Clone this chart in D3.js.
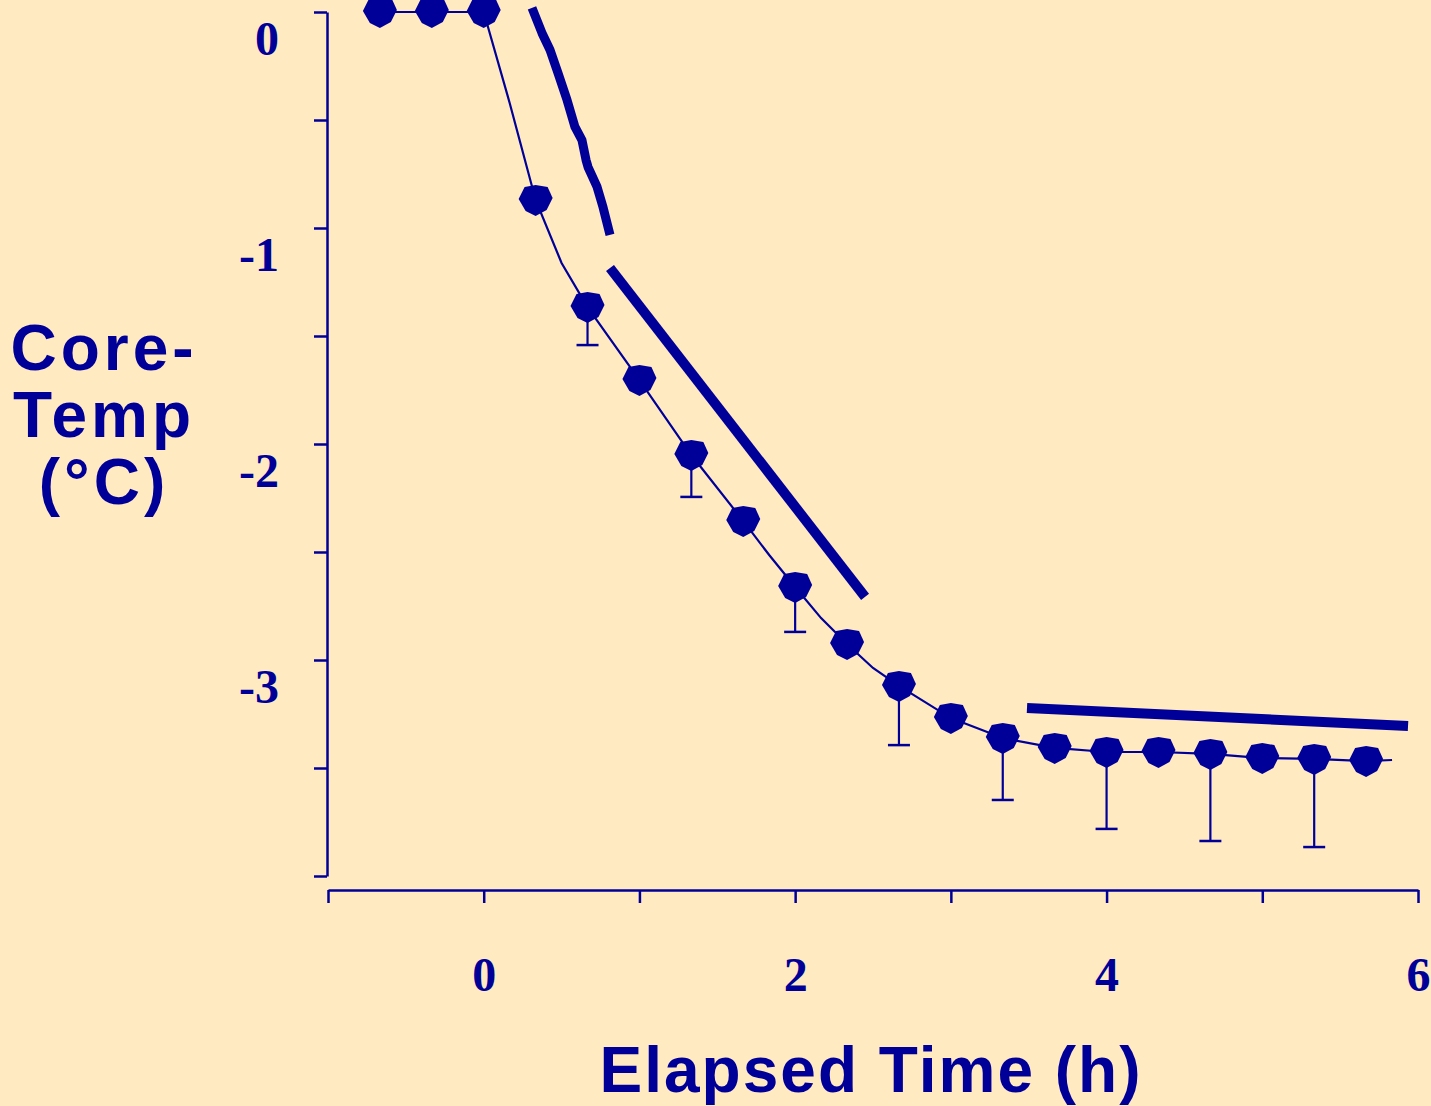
<!DOCTYPE html>
<html>
<head>
<meta charset="utf-8">
<script src="https://cdn.jsdelivr.net/npm/d3@7"></script>
<style>
  body { margin: 0; background: #FFEAC2; }
  svg { display: block; }
</style>
</head>
<body>
<script>
// Width and height of svg
var w = 1431;
var h = 1106;

var navy = "#000099";

// Mean core temperature change, one marker every 20 min (h, °C)
var markerTimes = [-2/3, -1/3, 0, 1/3, 2/3, 1, 4/3, 5/3, 2, 7/3, 8/3, 3, 10/3, 11/3, 4, 13/3, 14/3, 5, 16/3, 17/3];
var markerTemps = [0, 0, 0, -0.87, -1.366, -1.704, -2.051, -2.356, -2.662, -2.926, -3.12, -3.269, -3.361, -3.407, -3.426, -3.426, -3.435, -3.454, -3.458, -3.468];

// Thin trace through the markers (with the extra bends seen between them)
var traceTimes = [-2/3, -1/3, 0, 1/6, 1/3, 1/2, 2/3, 1, 4/3, 5/3, 11/6, 2, 13/6, 7/3, 5/2, 8/3, 3, 10/3, 11/3, 4, 13/3, 14/3, 5, 16/3, 17/3, 35/6];
var traceTemps = [0, 0, 0, -0.421, -0.87, -1.162, -1.366, -1.704, -2.051, -2.356, -2.514, -2.662, -2.806, -2.926, -3.037, -3.12, -3.269, -3.361, -3.407, -3.426, -3.426, -3.435, -3.454, -3.458, -3.468, -3.463];

// Downward error bars (SD) at every other marker
var errTimes = [2/3, 4/3, 2, 8/3, 10/3, 4, 14/3, 16/3];
var errSD = [0.176, 0.194, 0.208, 0.274, 0.287, 0.356, 0.403, 0.408];

// Thick hand drawn slope lines
var slope1Times = [0.31, 0.374, 0.426, 0.477, 0.535, 0.586, 0.631, 0.657, 0.67, 0.728, 0.766, 0.811];
var slope1Temps = [0.019, -0.097, -0.176, -0.282, -0.407, -0.532, -0.593, -0.685, -0.718, -0.81, -0.903, -1.032];
var slope2Times = [0.811, 2.449];
var slope2Temps = [-1.185, -2.708];
var slope3Times = [3.489, 5.936];
var slope3Temps = [-3.222, -3.306];

// Axis ticks and labels
var yTicks = [0, -0.5, -1, -1.5, -2, -2.5, -3, -3.5, -4];
var yLabels = [0, -1, -2, -3];
var xTicks = [-1, 0, 1, 2, 3, 4, 5, 6];
var xLabels = [0, 2, 4, 6];

var x = d3.scaleLinear()
    .domain([-1, 6])
    .range([328, 1418]);

var y = d3.scaleLinear()
    .domain([-4, 0])
    .range([876, 12]);

var svg = d3.select("body")
    .append("svg")
    .attr("width", w)
    .attr("height", h);

svg.append("rect")
    .attr("width", w)
    .attr("height", h)
    .attr("fill", "#FFEAC2");

// Y axis (labels sit below their ticks, as in the original slide)
var yAxis = svg.append("g")
    .attr("transform", "translate(327,0)")
    .call(d3.axisLeft(y)
        .tickValues(yTicks)
        .tickSize(13)
        .tickSizeOuter(0)
        .tickFormat(function(d) { return yLabels.indexOf(d) >= 0 ? String(d) : ""; }));

yAxis.selectAll("path, line")
    .attr("stroke", navy)
    .attr("stroke-width", 2.5);

yAxis.selectAll("text")
    .attr("x", -48)
    .attr("dy", 42)
    .attr("fill", navy)
    .attr("font-family", "'Liberation Serif', 'Times New Roman', serif")
    .attr("font-weight", "bold")
    .attr("font-size", 48);

// X axis
var xAxis = svg.append("g")
    .attr("transform", "translate(0,890)")
    .call(d3.axisBottom(x)
        .tickValues(xTicks)
        .tickSize(13)
        .tickSizeOuter(0)
        .tickFormat(function(d) { return xLabels.indexOf(d) >= 0 ? String(d) : ""; }));

xAxis.selectAll("path, line")
    .attr("stroke", navy)
    .attr("stroke-width", 2.5);

xAxis.selectAll("text")
    .attr("y", 101)
    .attr("dy", 0)
    .attr("fill", navy)
    .attr("font-family", "'Liberation Serif', 'Times New Roman', serif")
    .attr("font-weight", "bold")
    .attr("font-size", 48);

// Thin connecting trace
var line = d3.line()
    .x(function(d) { return x(d[0]); })
    .y(function(d) { return y(d[1]); });

svg.append("path")
    .datum(d3.zip(traceTimes, traceTemps))
    .attr("d", line)
    .attr("fill", "none")
    .attr("stroke", navy)
    .attr("stroke-width", 2.2);

// Error bars
var err = svg.append("g");
d3.zip(errTimes, errSD).forEach(function(d) {
    var i = markerTimes.findIndex(function(t) { return Math.abs(t - d[0]) < 1e-6; });
    var top = markerTemps[i];
    var bottom = top - d[1];
    err.append("line")
        .attr("x1", x(d[0])).attr("x2", x(d[0]))
        .attr("y1", y(top)).attr("y2", y(bottom))
        .attr("stroke", navy).attr("stroke-width", 2.2);
    err.append("line")
        .attr("x1", x(d[0]) - 11).attr("x2", x(d[0]) + 11)
        .attr("y1", y(bottom)).attr("y2", y(bottom))
        .attr("stroke", navy).attr("stroke-width", 2.5);
});

// Markers - blocky filled "circles"
var markerShape = [[-17, -1], [-11, -13], [0, -15], [12, -13], [17, -2], [11, 10], [0, 16], [-10, 11]];
svg.append("g")
    .selectAll("polygon")
    .data(d3.zip(markerTimes, markerTemps))
    .enter()
    .append("polygon")
    .attr("points", markerShape.map(function(p) { return p.join(","); }).join(" "))
    .attr("transform", function(d) { return "translate(" + x(d[0]) + "," + y(d[1]) + ")"; })
    .attr("fill", navy);

// Thick slope lines
[[slope1Times, slope1Temps, 9], [slope2Times, slope2Temps, 10], [slope3Times, slope3Temps, 10]].forEach(function(s) {
    svg.append("path")
        .datum(d3.zip(s[0], s[1]))
        .attr("d", line)
        .attr("fill", "none")
        .attr("stroke", navy)
        .attr("stroke-width", s[2])
        .attr("stroke-linejoin", "round")
        .attr("stroke-linecap", "butt");
});

// Axis titles
var yTitle = svg.append("text")
    .attr("fill", navy)
    .attr("font-family", "'Liberation Sans', Arial, sans-serif")
    .attr("font-weight", "bold")
    .attr("font-size", 64)
    .attr("letter-spacing", 4)
    .attr("text-anchor", "middle");

["Core-", "Temp", "(°C)"].forEach(function(t, i) {
    yTitle.append("tspan")
        .attr("x", 104)
        .attr("y", 370 + i * 67)
        .text(t);
});

svg.append("text")
    .attr("x", 871)
    .attr("y", 1092)
    .attr("fill", navy)
    .attr("font-family", "'Liberation Sans', Arial, sans-serif")
    .attr("font-weight", "bold")
    .attr("font-size", 64)
    .attr("letter-spacing", 2)
    .attr("text-anchor", "middle")
    .text("Elapsed Time (h)");
</script>
</body>
</html>
